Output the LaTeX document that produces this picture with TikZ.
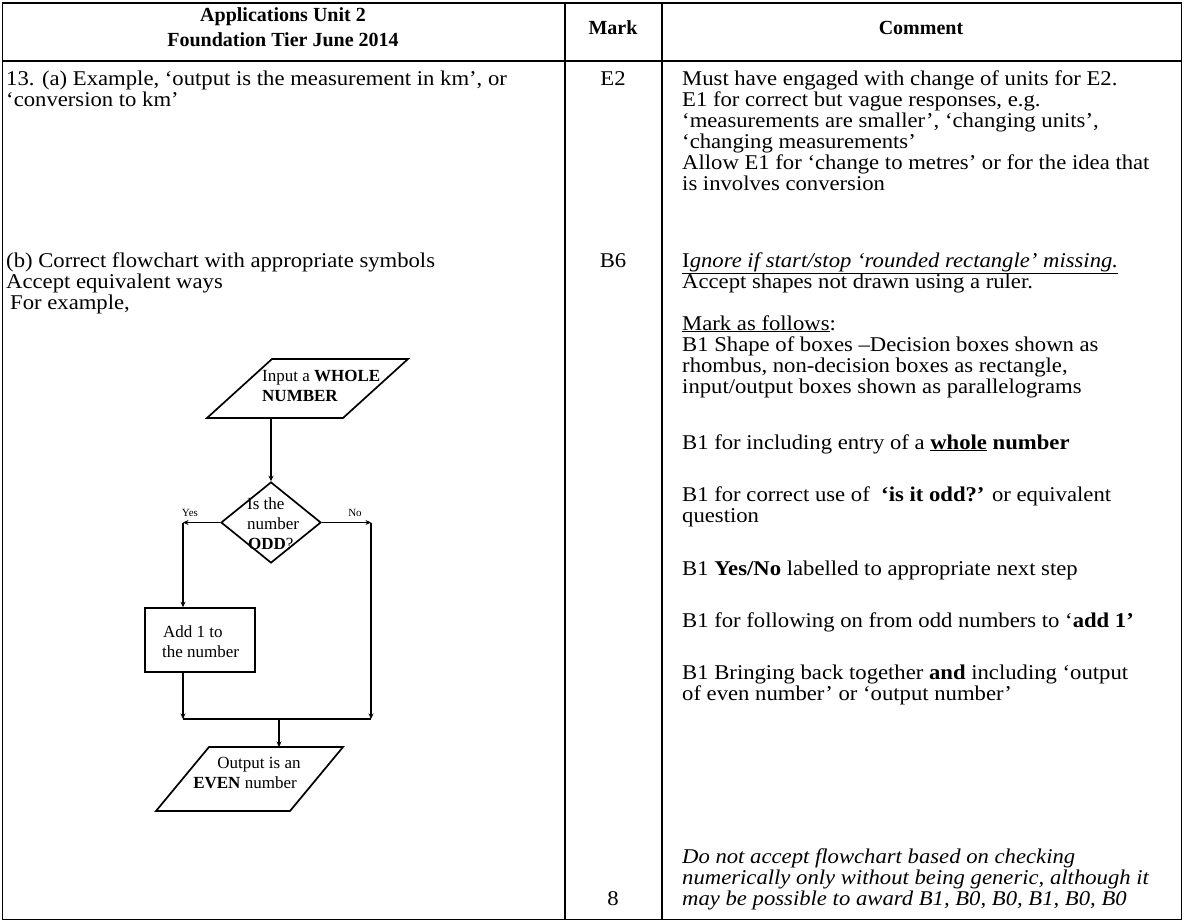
\documentclass[tikz,border=0pt]{standalone}
\usepackage{fontspec}
\setmainfont{Liberation Serif}[FakeStretch=1.08]
\newfontfamily\fcfont{Liberation Serif}
\usetikzlibrary{arrows.meta,shapes.geometric}
\tikzset{
  tx/.style={anchor=base west,inner sep=0pt,font=\fontsize{21}{21}\selectfont},
  tc/.style={anchor=base,inner sep=0pt,font=\fontsize{21}{21}\selectfont},
  hd/.style={anchor=base,inner sep=0pt,font=\fcfont\fontsize{20}{20}\selectfont\bfseries},
  rule/.style={line width=1.5pt},
  fc/.style={line width=1.7pt},
  fl/.style={line width=1.2pt},
  arr/.style={fl,-{Stealth[length=5.5pt,width=5pt]}},
  ft/.style={anchor=base west,inner sep=0pt,font=\fcfont\fontsize{17}{18}\selectfont},
  fs/.style={anchor=base,inner sep=0pt,font=\fcfont\fontsize{11}{12}\selectfont},
}
\begin{document}
\begin{tikzpicture}[x=1pt,y=-1pt]
\useasboundingbox (0,0) rectangle (1184,922);
% table rules
\draw[rule] (2.5,3) rectangle (1181.5,919.5);
\draw[line width=2pt] (2.5,61) -- (1181.5,61);
\draw[rule] (565,3) -- (565,919.5);
\draw[rule] (662,3) -- (662,919.5);
% header
\node[hd] (h1) at (283,21) {Applications Unit 2};
\node[hd] (h2) at (283,46) {Foundation Tier June 2014};
\node[hd] (h3) at (613,34) {Mark};
\node[hd] (h4) at (921,34) {Comment};
% left column
\node[tx] (a1) at (6,85) {13. (a) Example, ‘output is the measurement in km’, or};
\node[tx] (a2) at (6,106) {‘conversion to km’};
\node[tx] (b1) at (6,267) {(b) Correct flowchart with appropriate symbols};
\node[tx] (b2) at (6,288) {Accept equivalent ways};
\node[tx] (b3) at (10,309) {For example,};
% mark column
\node[tc] (m1) at (613,85) {E2};
\node[tc] (m2) at (613,267) {B6};
\node[tc] (m3) at (613,905) {8};
% comment column
\node[tx] (c1) at (682,85) {Must have engaged with change of units for E2.};
\node[tx] (c2) at (682,106) {E1 for correct but vague responses, e.g.};
\node[tx] (c3) at (682,127) {‘measurements are smaller’, ‘changing units’,};
\node[tx] (c4) at (682,148) {‘changing measurements’};
\node[tx] (c5) at (682,169) {Allow E1 for ‘change to metres’ or for the idea that};
\node[tx] (c6) at (682,190) {is involves conversion};
\node[tx] (c7) at (682,267) {\underline{I\textit{gnore if start/stop ‘rounded rectangle’ missing.}}};
\node[tx] (c8) at (682,288) {Accept shapes not drawn using a ruler.};
\node[tx] (c9) at (682,330) {\underline{Mark as follows}:};
\node[tx] (c10) at (682,351) {B1 Shape of boxes –Decision boxes shown as};
\node[tx] (c11) at (682,372) {rhombus, non-decision boxes as rectangle,};
\node[tx] (c12) at (682,393) {input/output boxes shown as parallelograms};
\node[tx] (c13) at (682,449) {B1 for including entry of a \textbf{\underline{whole} number}};
\node[tx] (c14) at (682,501) {B1 for correct use of \ \textbf{‘is it odd?’} or equivalent};
\node[tx] (c15) at (682,522) {question};
\node[tx] (c16) at (682,575) {B1 \textbf{Yes/No} labelled to appropriate next step};
\node[tx] (c17) at (682,627) {B1 for following on from odd numbers to ‘\textbf{add 1’}};
\node[tx] (c18) at (682,679) {B1 Bringing back together \textbf{and} including ‘output};
\node[tx] (c19) at (682,700) {of even number’ or ‘output number’};
\node[tx] (c20) at (682,863) {\itshape Do not accept flowchart based on checking};
\node[tx] (c21) at (682,884) {\itshape numerically only without being generic, although it};
\node[tx] (c22) at (682,905) {\itshape may be possible to award B1, B0, B0, B1, B0, B0};
% flowchart
\draw[fc] (272,359) -- (408,359) -- (343,418) -- (207,418) -- cycle;
\coordinate (inb) at (271,418);
\node[ft] (in1) at (262,381) {Input a \textbf{WHOLE}};
\node[ft] (in2) at (262,401) {\textbf{NUMBER}};
\node[draw,fc,diamond,minimum width=100pt,minimum height=81pt,inner sep=0pt] (dec) at (271,522.5) {};
\node[ft] (d1) at (247,509) {Is the};
\node[ft] (d2) at (247,529) {number};
\node[ft] (d3) at (248,549) {\textbf{ODD}?};
\node[fs] (yes) at (190,516) {Yes};
\node[fs] (no) at (355,516) {No};
\coordinate (yc) at (183,522.5);
\coordinate (nc) at (371,522.5);
\node[draw,fc,minimum width=110pt,minimum height=64pt,inner sep=0pt] (add) at (200,640) {};
\node[ft] (ad1) at (163,637) {Add 1 to};
\node[ft] (ad2) at (162,657) {the number};
\coordinate (ml) at (183,719);
\coordinate (mr) at (371,719);
\coordinate (mm) at (279,719);
\draw[fc] (209,747) -- (343,747) -- (290,811) -- (156,811) -- cycle;
\coordinate (outt) at (279,747);
\node[ft,anchor=base] (o1) at (259,768) {Output is an};
\node[ft,anchor=base] (o2) at (245,788) {\textbf{EVEN} number};
% connectors
\draw[arr] (inb) -- (dec.north);
\draw[arr] (dec.west) -- (yc);
\draw[arr] (yc) -- (yc |- add.north);
\draw[arr] (dec.east) -- (nc);
\draw[arr] (nc) -- (mr);
\draw[arr] (yc |- add.south) -- (ml);
\draw[fl] (ml) -- (mr);
\draw[arr] (mm) -- (outt);
\end{tikzpicture}
\end{document}
